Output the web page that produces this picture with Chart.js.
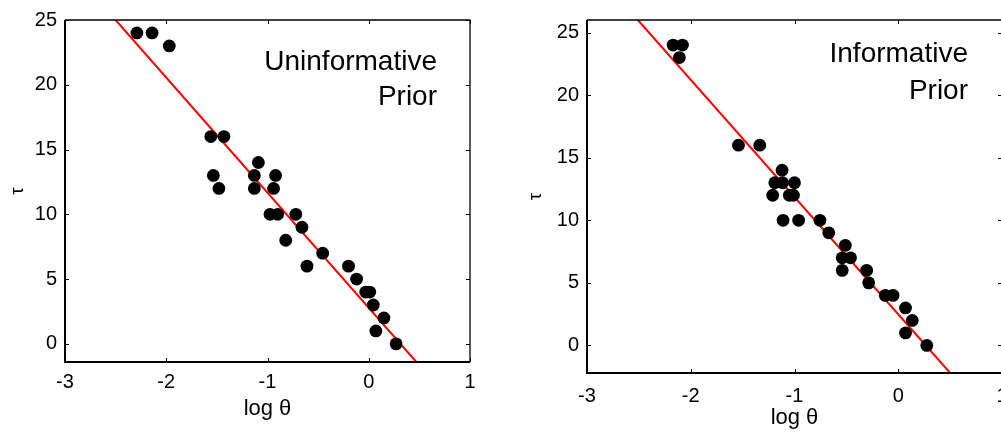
<!DOCTYPE html>
<html>
<head>
<meta charset="utf-8">
<script src="https://cdn.jsdelivr.net/npm/chart.js@4.4.1/dist/chart.umd.min.js"></script>
<style>
  html, body { margin: 0; padding: 0; background: #fff; overflow: hidden; width: 1001px; height: 434px; }
  #wrap { position: relative; width: 1001px; height: 434px; overflow: hidden; }
  canvas { position: absolute; top: 0; }
  #left  { left: 0; }
  #right { left: 500px; }
</style>
</head>
<body>
<div id="wrap">
  <canvas id="left" width="500" height="434"></canvas>
  <canvas id="right" width="530" height="434"></canvas>
</div>
<script>
// Two scatter panels: tau vs log theta, with a red fitted line.

const xTicks = [-3, -2, -1, 0, 1];
const yTicks = [0, 5, 10, 15, 20, 25];

// Left panel - uninformative prior
const leftLogTheta = [-2.29, -2.14, -1.97, -1.56, -1.43, -1.535, -1.48, -1.09, -1.13, -1.13,
                      -0.92, -0.94, -0.975, -0.90, -0.72, -0.66, -0.82, -0.455, -0.61, -0.20,
                      -0.12, -0.03, 0.01, 0.045, 0.15, 0.07, 0.27];
const leftTau      = [24, 24, 23, 16, 16, 13, 12, 14, 13, 12,
                      13, 12, 10, 10, 10, 9, 8, 7, 6, 6,
                      5, 4, 4, 3, 2, 1, 0];
const leftFitX     = [-2.5, 0.47];
const leftFitTau   = [25, -1.4];

// Right panel - informative prior
const rightLogTheta = [-2.17, -2.08, -2.11, -1.54, -1.335, -1.12, -1.19, -1.115, -1.0, -1.21,
                       -1.05, -1.01, -1.11, -0.96, -0.755, -0.67, -0.51, -0.54, -0.46, -0.54,
                       -0.305, -0.285, -0.125, -0.05, 0.07, 0.135, 0.07, 0.275];
const rightTau      = [24, 24, 23, 16, 16, 14, 13, 13, 13, 12,
                       12, 12, 10, 10, 10, 9, 8, 7, 7, 6,
                       6, 5, 4, 4, 3, 2, 1, 0];
const rightFitX     = [-2.51, 0.5];
const rightFitTau   = [26, -2.2];

const FONT = '"Liberation Sans", Arial, sans-serif';

const framePlugin = {
  id: "frame",
  afterDraw(chart, args, opts) {
    const { ctx, chartArea: a, scales: { x, y } } = chart;
    ctx.save();
    ctx.strokeStyle = "#000";
    ctx.lineWidth = 1;
    ctx.beginPath();
    x.ticks.forEach(t => {
      const px = Math.round(x.getPixelForValue(t.value)) + 0.5;
      ctx.moveTo(px, a.bottom); ctx.lineTo(px, a.bottom - 4);
      ctx.moveTo(px, a.top);    ctx.lineTo(px, a.top + 4);
    });
    y.ticks.forEach(t => {
      const py = Math.round(y.getPixelForValue(t.value)) + 0.5;
      ctx.moveTo(a.left, py);  ctx.lineTo(a.left + 4, py);
      ctx.moveTo(a.right, py); ctx.lineTo(a.right - 4, py);
    });
    ctx.stroke();

    // box: heavier on bottom/left like the original
    ctx.lineWidth = 1.3;
    ctx.beginPath();
    ctx.moveTo(a.left, a.top); ctx.lineTo(a.right, a.top); ctx.lineTo(a.right, a.bottom);
    ctx.stroke();
    ctx.lineWidth = 2;
    ctx.beginPath();
    ctx.moveTo(a.left, a.top); ctx.lineTo(a.left, a.bottom); ctx.lineTo(a.right, a.bottom);
    ctx.stroke();

    ctx.fillStyle = "#000";
    ctx.font = "28px " + FONT;
    ctx.textAlign = "right";
    ctx.textBaseline = "alphabetic";
    opts.lines.forEach((s, i) => {
      ctx.fillText(s, a.right - opts.dx, a.top + opts.y0 + i * opts.dy);
    });
    ctx.restore();
  }
};

function makeChart(id, xs, taus, fitX, fitTau, cfg) {
  const points = xs.map((v, i) => ({ x: v, y: taus[i] }));
  const fit = fitX.map((v, i) => ({ x: v, y: fitTau[i] }));
  return new Chart(document.getElementById(id), {
    type: "scatter",
    data: {
      datasets: [
        {
          type: "line",
          data: fit,
          borderColor: "#ff0000",
          borderWidth: 2,
          pointRadius: 0,
          fill: false,
          order: 2,
        },
        {
          data: points,
          backgroundColor: "#000",
          borderColor: "#000",
          borderWidth: 0,
          pointRadius: 6.4,
          order: 1,
        },
      ],
    },
    options: {
      responsive: false,
      animation: false,
      devicePixelRatio: 1,
      layout: { padding: { top: cfg.top, right: cfg.right, bottom: 0, left: 0 } },
      plugins: {
        legend: { display: false },
        tooltip: { enabled: false },
        frame: { lines: cfg.lines, dx: cfg.dx, y0: cfg.y0, dy: cfg.dy },
      },
      scales: {
        x: {
          type: "linear",
          min: -3, max: 1,
          afterBuildTicks: s => { s.ticks = xTicks.map(v => ({ value: v })); },
          afterFit: s => { s.height = cfg.xh; },
          grid: { display: false, drawTicks: false },
          border: { display: false },
          ticks: { color: "#000", font: { family: FONT, size: 20 }, padding: cfg.xpad, maxRotation: 0 },
          title: {
            display: true, text: "log \u03b8", color: "#000",
            font: { family: FONT, size: 22 }, padding: { top: 0, bottom: cfg.tpad },
          },
        },
        y: {
          type: "linear",
          min: cfg.ymin, max: cfg.ymax,
          afterBuildTicks: s => { s.ticks = yTicks.map(v => ({ value: v })); },
          afterFit: s => { s.width = cfg.yw; },
          grid: { display: false, drawTicks: false },
          border: { display: false },
          ticks: { color: "#000", font: { family: FONT, size: 20 }, padding: 8 },
          title: {
            display: true, text: "\u03c4", color: "#000",
            font: { family: FONT, size: 19 }, padding: { top: cfg.ypad, bottom: 0 },
          },
        },
      },
    },
    plugins: [framePlugin],
  });
}

makeChart("left", leftLogTheta, leftTau, leftFitX, leftFitTau, {
  top: 15, right: 30, xh: 72, yw: 65, ymin: -1.4, ymax: 25,
  xpad: 8, tpad: 12, ypad: 6,
  lines: ["Uninformative", "Prior"], dx: 33, y0: 50, dy: 35,
});

makeChart("right", rightLogTheta, rightTau, rightFitX, rightFitTau, {
  top: 16, right: 28, xh: 61, yw: 87, ymin: -2.2, ymax: 26,
  xpad: 11, tpad: 3, ypad: 24,
  lines: ["Informative", "Prior"], dx: 34, y0: 42, dy: 37,
});
</script>
</body>
</html>
